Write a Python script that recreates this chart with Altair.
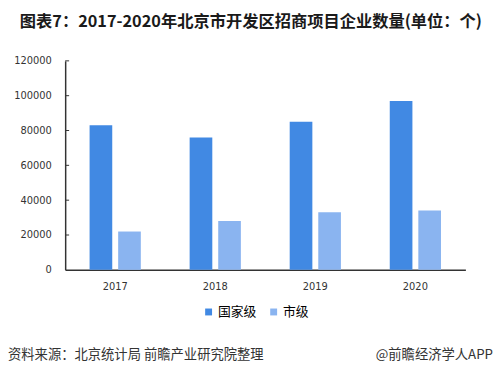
import altair as alt
import pandas as pd

years = ["2017", "2018", "2019", "2020"]
series = ["国家级", "市级"]
national = [83000, 76000, 85000, 97000]
city = [22000, 28000, 33000, 34000]
colors = ["#4189E3", "#8AB4F0"]
y_ticks = [0, 20000, 40000, 60000, 80000, 100000, 120000]

title_text = "图表7：2017-2020年北京市开发区招商项目企业数量(单位：个)"
source_text = "资料来源：北京统计局 前瞻产业研究院整理"
brand_text = "@前瞻经济学人APP"

rows = []
for i, y in enumerate(years):
    rows.append({"year": y, "type": series[0], "value": national[i], "order": 0})
    rows.append({"year": y, "type": series[1], "value": city[i], "order": 1})
df = pd.DataFrame(rows)
tick_df = pd.DataFrame({"value": y_ticks[1:]})

cjk = "Noto Sans CJK SC"
num_font = "DejaVu Sans"

yscale = alt.Scale(domain=[0, 120000], nice=False)
yaxis = alt.Axis(title=None, values=y_ticks, format="d", grid=False,
                 ticks=False, labelPadding=14, labelOverlap=False,
                 labelFont=num_font, labelFontSize=10, labelColor="#333333",
                 domainColor="#333333", domainWidth=1.5)

bars = alt.Chart(df).mark_bar().encode(
    x=alt.X("year:N", sort=years,
            scale=alt.Scale(paddingInner=0.488, paddingOuter=0.244),
            axis=alt.Axis(title=None, labelAngle=0, ticks=False, labelPadding=12,
                          labelFont=num_font, labelFontSize=10, labelColor="#333333",
                          domainColor="#333333", domainWidth=1.5)),
    xOffset=alt.XOffset("type:N", sort=series,
                        scale=alt.Scale(paddingInner=0.207, paddingOuter=0)),
    y=alt.Y("value:Q", scale=yscale, axis=yaxis),
    color=alt.Color("type:N", sort=series,
                    scale=alt.Scale(domain=series, range=colors),
                    legend=alt.Legend(title=None, orient="none", legendX=139, legendY=248,
                                      direction="horizontal", symbolType="square",
                                      symbolSize=49, symbolStrokeWidth=0,
                                      labelFont=cjk, labelFontSize=13, labelColor="#000000",
                                      columnPadding=10, labelOffset=3, padding=0)),
)

ticks = alt.Chart(tick_df).mark_rule(
    color="#333333", strokeWidth=1
).encode(y=alt.Y("value:Q", scale=yscale, axis=yaxis), x=alt.value(0), x2=alt.value(4))

def txt(s, x, y, size, weight="normal", align="left", color="#333333"):
    return alt.Chart(pd.DataFrame({"t": [s]})).mark_text(
        align=align, baseline="middle", font=cjk, fontSize=size,
        fontWeight=weight, color=color
    ).encode(text="t:N", x=alt.value(x), y=alt.value(y))

title = txt(title_text, -46, -39, 16.5, weight="bold", color="#1a1a1a")
source = txt(source_text, -58, 298, 13.5)
brand = txt(brand_text, 434, 298, 13.5, align="right")

chart = alt.layer(bars, ticks, title, source, brand).properties(
    width=406, height=212,
    autosize=alt.AutoSizeParams(type="none"),
    padding={"left": 58, "top": 51, "right": 28, "bottom": 99},
).configure_view(stroke=None)

chart.save("out.html", embed_options={"renderer": "svg", "actions": False})
